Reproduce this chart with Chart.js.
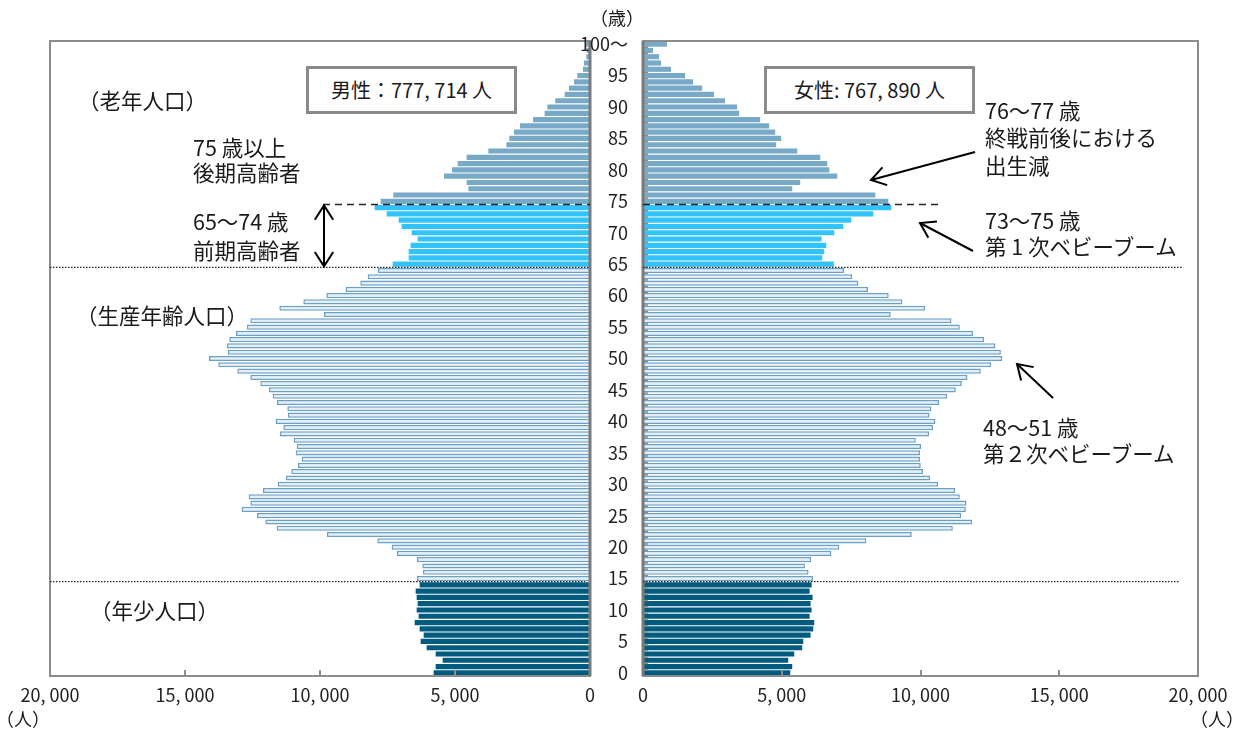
<!DOCTYPE html>
<html lang="ja">
<head>
<meta charset="utf-8">
<script src="https://cdn.jsdelivr.net/npm/chart.js@4.4.1/dist/chart.umd.min.js"></script>
<style>
  html, body { margin: 0; padding: 0; background: #fff; }
  #wrap { position: relative; width: 1247px; height: 729px; overflow: hidden;
          font-family: 'Noto Sans CJK JP', 'Noto Sans', sans-serif; color: #1a1a1a; }
  canvas { position: absolute; top: 0; }
  #maleChart { left: 0; }
  #femaleChart { left: 560px; }
  .note { position: absolute; font-size: 21.5px; line-height: 26px; white-space: nowrap; }
  .total { position: absolute; top: 66px; height: 48px; border: 3px solid #8a8a8a; box-sizing: border-box;
           text-align: center; font-size: 20px; line-height: 41px; background: #fff; white-space: nowrap; }
  .unit { position: absolute; font-size: 18px; line-height: 22px; white-space: nowrap; }
</style>
</head>
<body>
<div id="wrap">
  <canvas id="maleChart" width="600" height="729"></canvas>
  <canvas id="femaleChart" width="687" height="729"></canvas>

  <div class="unit" style="left:590px; top:6px;">（歳）</div>
  <div class="unit" style="left:-4px; top:707px;">（人）</div>
  <div class="unit" style="left:1190px; top:707px;">（人）</div>

  <div class="total" style="left:306px; width:211px;">男性：777, 714 人</div>
  <div class="total" style="left:764px; width:211px;">女性: 767, 890 人</div>

  <div class="note" style="left:78px; top:87px;">（老年人口）</div>
  <div class="note" style="left:193px; top:134px;">75 歳以上</div>
  <div class="note" style="left:193px; top:159px;">後期高齢者</div>
  <div class="note" style="left:193px; top:208px;">65～74 歳</div>
  <div class="note" style="left:193px; top:237px;">前期高齢者</div>
  <div class="note" style="left:76px; top:302px;">（生産年齢人口）</div>
  <div class="note" style="left:90px; top:597px;">（年少人口）</div>

  <div class="note" style="left:985px; top:97px;">76～77 歳</div>
  <div class="note" style="left:985px; top:124px;">終戦前後における</div>
  <div class="note" style="left:985px; top:152px;">出生減</div>
  <div class="note" style="left:985px; top:207px;">73～75 歳</div>
  <div class="note" style="left:985px; top:233px;">第 1 次ベビーブーム</div>
  <div class="note" style="left:983px; top:414px;">48～51 歳</div>
  <div class="note" style="left:983px; top:440px;">第２次ベビーブーム</div>
</div>

<script>
// 年齢（0歳～100歳以上）
const ages = Array.from({ length: 101 }, (_, i) => String(i));

// 男性人口（0歳から順に）
const male = [
    5790, 5716, 5457, 5716, 6049, 6272, 6160, 6309, 6494, 6346,
    6420, 6383, 6420, 6457, 6309, 6407, 6185, 6210, 6407, 7148,
    7346, 7877, 9741, 11605, 12025, 12333, 12901, 12580, 12642, 12111,
    11568, 11259, 11062, 10815, 10679, 10901, 10864, 10975, 11481, 11358,
    11642, 11185, 11210, 11593, 11753, 11890, 12210, 12580, 13062, 13765,
    14111, 13407, 13444, 13358, 13111, 12704, 12580, 9852, 11506, 10617,
    9765, 9050, 8506, 8235, 7852, 7309, 6716, 6716, 6642, 6383,
    6605, 6975, 7086, 7531, 7975, 7753, 7284, 4506, 4568, 5407,
    5111, 4901, 4568, 3765, 3099, 2988, 2815, 2593, 2111, 1679,
    1580, 1284, 938, 778, 593, 469, 259, 222, 136, 123,
    136
];

// 女性人口（0歳から順に）
const female = [
    5305, 5377, 5233, 5450, 5738, 5774, 6039, 6135, 6171, 6003,
    6075, 6039, 6111, 6003, 6075, 6123, 5967, 5835, 6063, 6785,
    7074, 8048, 9684, 11164, 11862, 11465, 11633, 11657, 11416, 11248,
    10634, 10346, 10093, 10009, 9985, 9985, 10021, 9829, 10310, 10454,
    10538, 10322, 10394, 10671, 10959, 11272, 11489, 11693, 12174, 12547,
    12944, 12896, 12704, 12294, 11897, 11416, 11116, 8926, 10165, 9347,
    8854, 8108, 7759, 7543, 7242, 6881, 6460, 6532, 6604, 6436,
    6893, 7218, 7507, 8301, 8950, 8842, 8373, 5377, 5666, 7001,
    6713, 6641, 6388, 5558, 4800, 4980, 4764, 4547, 4222, 3465,
    3392, 2959, 2562, 2129, 1805, 1516, 1010, 650, 577, 361,
    866
];

// 軸の目盛り
const valueTicks = [0, 5000, 10000, 15000, 20000];
const ageTickStep = 5;

const FONT = "'Noto Sans CJK JP', 'Noto Sans', sans-serif";

// 年齢区分ごとの色
function barFill(age) {
    if (age < 15) return '#005b7f';      // 年少人口
    if (age < 65) return '#e3eef6';      // 生産年齢人口（枠のみ）
    if (age < 75) return '#33c3fc';      // 前期高齢者
    return '#78aac8';                    // 後期高齢者
}
function barBorder(age) {
    return (age >= 15 && age < 65) ? '#6a9fc6' : 'rgba(0,0,0,0)';
}

function fmtValue(v) {
    return v === 0 ? '0' : v.toLocaleString('en-US').replace(',', ', ');
}

// 年齢の境界線の y 座標
function boundaryY(chart, a) {
    const y = chart.scales.y;
    return (y.getPixelForValue(a) + y.getPixelForValue(a + 1)) / 2;
}

function arrowHead(ctx, fx, fy, tx, ty, len) {
    const ang = Math.atan2(ty - fy, tx - fx);
    const spread = Math.PI / 5.5;
    ctx.beginPath();
    ctx.moveTo(tx - len * Math.cos(ang - spread), ty - len * Math.sin(ang - spread));
    ctx.lineTo(tx, ty);
    ctx.lineTo(tx - len * Math.cos(ang + spread), ty - len * Math.sin(ang + spread));
    ctx.stroke();
}
function arrow(ctx, fx, fy, tx, ty, both) {
    ctx.beginPath();
    ctx.moveTo(fx, fy);
    ctx.lineTo(tx, ty);
    ctx.stroke();
    arrowHead(ctx, fx, fy, tx, ty, 17);
    if (both) arrowHead(ctx, tx, ty, fx, fy, 17);
}

// 枠線・区分線・矢印
function makeDecor(side) {
    return {
        id: 'decor_' + side,
        afterDatasetsDraw(chart) {
            const { ctx, chartArea: a, scales } = chart;
            ctx.save();

            // 内向きの目盛り
            ctx.strokeStyle = '#8c8c8c';
            ctx.lineWidth = 2;
            [5000, 10000, 15000].forEach(v => {
                const x = Math.round(scales.x.getPixelForValue(v));
                ctx.beginPath(); ctx.moveTo(x, a.bottom); ctx.lineTo(x, a.bottom - 6); ctx.stroke();
            });
            if (side === 'female') {
                ctx.lineWidth = 1.5;
                for (let i = 0; i < ages.length - 1; i++) {
                    const y = boundaryY(chart, i);
                    ctx.beginPath(); ctx.moveTo(a.left, y); ctx.lineTo(a.left + 5, y); ctx.stroke();
                }
            }

            // 枠
            ctx.strokeStyle = '#8c8c8c';
            ctx.lineWidth = 2;
            ctx.strokeRect(a.left, a.top, a.width, a.height);
            ctx.strokeStyle = '#7a7a7a';
            ctx.lineWidth = 3;
            ctx.beginPath();
            const zx = scales.x.getPixelForValue(0);
            ctx.moveTo(zx, a.top); ctx.lineTo(zx, a.bottom);
            ctx.stroke();

            // 区分線
            const y75 = boundaryY(chart, 74);
            const y65 = boundaryY(chart, 64);
            const y15 = boundaryY(chart, 14);
            ctx.strokeStyle = '#222';
            ctx.lineWidth = 1.5;
            ctx.setLineDash([7, 5]);
            ctx.beginPath();
            if (side === 'male') { ctx.moveTo(323, y75); ctx.lineTo(a.right, y75); }
            else { ctx.moveTo(a.left, y75); ctx.lineTo(380, y75); }
            ctx.stroke();

            ctx.lineWidth = 1.2;
            ctx.setLineDash([1.5, 1.5]);
            ctx.beginPath();
            if (side === 'male') {
                ctx.moveTo(a.left, y65); ctx.lineTo(a.right, y65);
                ctx.moveTo(a.left, y15); ctx.lineTo(585, y15);
            } else {
                ctx.moveTo(a.left, y65); ctx.lineTo(622, y65);
                ctx.moveTo(a.left, y15); ctx.lineTo(620, y15);
            }
            ctx.stroke();
            ctx.setLineDash([]);

            // 矢印
            ctx.strokeStyle = '#000';
            ctx.lineWidth = 2;
            if (side === 'male') {
                arrow(ctx, 324, y75 + 1, 324, y65 - 1, true);
            } else {
                arrow(ctx, 415, 152, 311, 180, false);
                arrow(ctx, 413, 251, 360, 223, false);
                arrow(ctx, 493, 398, 457, 364, false);
            }
            ctx.restore();
        }
    };
}

function makeChart(id, data, side) {
    const isMale = side === 'male';
    return new Chart(document.getElementById(id), {
        type: 'bar',
        data: {
            labels: ages,
            datasets: [{
                data: data,
                backgroundColor: c => barFill(c.dataIndex),
                borderColor: c => barBorder(c.dataIndex),
                borderWidth: c => (c.dataIndex >= 15 && c.dataIndex < 65) ? 1.5 : 0,
                borderSkipped: 'start',
                barPercentage: 0.82,
                categoryPercentage: 1.0
            }]
        },
        options: {
            indexAxis: 'y',
            responsive: false,
            animation: false,
            layout: {
                padding: isMale
                    ? { left: 50, right: 10, top: 41, bottom: 0 }
                    : { left: 0, right: 49, top: 41, bottom: 0 }
            },
            plugins: { legend: { display: false }, tooltip: { enabled: false } },
            scales: {
                x: {
                    type: 'linear',
                    reverse: isMale,
                    min: valueTicks[0],
                    max: valueTicks[valueTicks.length - 1],
                    afterBuildTicks: s => { s.ticks = valueTicks.map(v => ({ value: v })); },
                    ticks: {
                        callback: v => fmtValue(v),
                        color: '#222',
                        font: { family: FONT, size: 18 },
                        padding: 8,
                        maxRotation: 0
                    },
                    grid: { display: false, drawTicks: false },
                    border: { display: false },
                    afterFit: s => { s.height = 53; }
                },
                y: {
                    type: 'category',
                    reverse: true,
                    display: !isMale,
                    grid: { display: false, drawTicks: false },
                    border: { display: false },
                    ticks: {
                        autoSkip: false,
                        padding: 15,
                        color: '#222',
                        font: { family: FONT, size: 18 },
                        callback: (v, i) => i % ageTickStep === 0 ? (i === 100 ? '100～' : String(i)) : ''
                    },
                    afterFit: s => { s.width = isMale ? 0 : 83; }
                }
            }
        },
        plugins: [makeDecor(side)]
    });
}

const maleChart = makeChart('maleChart', male, 'male');
const femaleChart = makeChart('femaleChart', female, 'female');
</script>
</body>
</html>
